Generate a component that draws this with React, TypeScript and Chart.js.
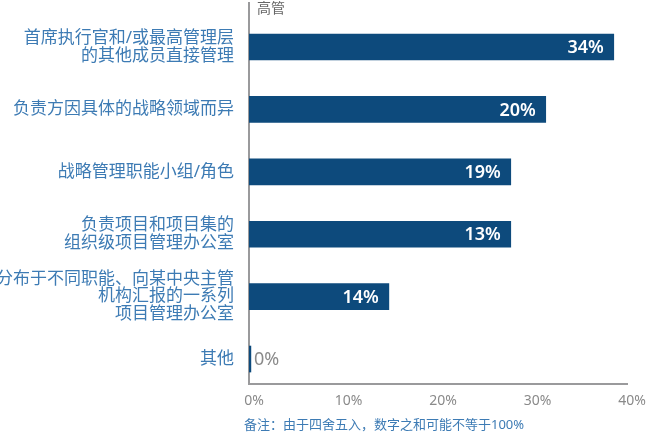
import { useEffect, useRef } from "react";
import { Chart, registerables } from "chart.js";

Chart.register(...registerables);

const categories: string[][] = [
  ["首席执行官和/或最高管理层", "的其他成员直接管理"],
  ["负责方因具体的战略领域而异"],
  ["战略管理职能小组/角色"],
  ["负责项目和项目集的", "组织级项目管理办公室"],
  ["分布于不同职能、向某中央主管", "机构汇报的一系列", "项目管理办公室"],
  ["其他"],
];
const barValues = [38.6, 31.4, 27.7, 27.7, 14.8, 0.2];
const valueLabels = ["34%", "20%", "19%", "13%", "14%", "0%"];
const seriesName = "高管";
const footnote = "备注：由于四舍五入，数字之和可能不等于100%";
const xMin = 0;
const xMax = 40;
const xStep = 10;

const FONT = '"Noto Sans", "Noto Sans CJK SC", sans-serif';
const BAR_COLOR = "#0d4a7c";
const LABEL_BLUE = "#3d7bb4";
const AXIS_GRAY = "#9a9a9c";
const TICK_GRAY = "#8a8a8a";

const annotate = {
  id: "annotate",
  afterDatasetsDraw(chart: any) {
    const ctx = chart.ctx as CanvasRenderingContext2D;
    const meta = chart.getDatasetMeta(0);
    ctx.save();
    meta.data.forEach((bar: any, i: number) => {
      const inside = barValues[i] > 5;
      ctx.font = inside ? `600 18px ${FONT}` : `18px ${FONT}`;
      ctx.fillStyle = inside ? "#ffffff" : TICK_GRAY;
      ctx.textAlign = inside ? "right" : "left";
      ctx.textBaseline = "middle";
      ctx.fillText(valueLabels[i], inside ? bar.x - 10 : bar.x + 3, bar.y + 1);
    });
    ctx.font = `14px ${FONT}`;
    ctx.fillStyle = "#666666";
    ctx.textAlign = "left";
    ctx.textBaseline = "top";
    ctx.fillText(chart.data.datasets[0].label, chart.chartArea.left + 8, 2);
    ctx.font = `13px ${FONT}`;
    ctx.fillStyle = LABEL_BLUE;
    ctx.textBaseline = "middle";
    ctx.fillText(footnote, chart.chartArea.left - 5, 425);
    ctx.restore();
  },
};

export default function App() {
  const ref = useRef<HTMLCanvasElement | null>(null);
  useEffect(() => {
    if (!ref.current) return;
    const chart = new Chart(ref.current, {
      type: "bar",
      data: {
        datasets: [
          {
            label: seriesName,
            data: barValues.map((v, i) => ({ x: v, y: i })),
            backgroundColor: BAR_COLOR,
            borderWidth: 0,
            barThickness: 26,
          },
        ],
      },
      options: {
        indexAxis: "y",
        animation: false,
        responsive: true,
        maintainAspectRatio: false,
        layout: { padding: { top: 3, right: 19, left: 0, bottom: 0 } },
        plugins: {
          legend: { display: false },
          tooltip: { enabled: false },
          title: { display: false },
        },
        scales: {
          x: {
            type: "linear",
            min: xMin,
            max: xMax,
            grid: { display: false, drawTicks: false },
            border: { display: true, color: AXIS_GRAY, width: 2 },
            ticks: {
              stepSize: xStep,
              color: TICK_GRAY,
              font: { family: FONT, size: 14 },
              padding: 9,
              labelOffset: 5,
              callback: (v: any) => `${v}%`,
            },
            afterFit: (s: any) => {
              s.height = 48;
              s.paddingLeft = 0;
              s.paddingRight = 0;
            },
          },
          y: {
            type: "linear",
            reverse: true,
            offset: false,
            min: -0.705,
            max: 5.4,
            grid: { display: false, drawTicks: false, offset: false },
            border: { display: true, color: AXIS_GRAY, width: 2 },
            ticks: {
              stepSize: 1,
              includeBounds: false,
              autoSkip: false,
              color: LABEL_BLUE,
              padding: 15,
              font: { family: FONT, size: 17, lineHeight: 1.05 },
              callback: (v: any) =>
                Number.isInteger(v) && categories[v] ? categories[v] : "",
            },
            afterFit: (s: any) => {
              s.width = 249;
              s.paddingTop = 0;
              s.paddingBottom = 0;
            },
          },
        },
      },
      plugins: [annotate],
    } as any);
    return () => chart.destroy();
  }, []);
  return (
    <div style={{ position: "absolute", left: 0, top: 0, width: 646, height: 432 }}>
      <canvas ref={ref} />
    </div>
  );
}
